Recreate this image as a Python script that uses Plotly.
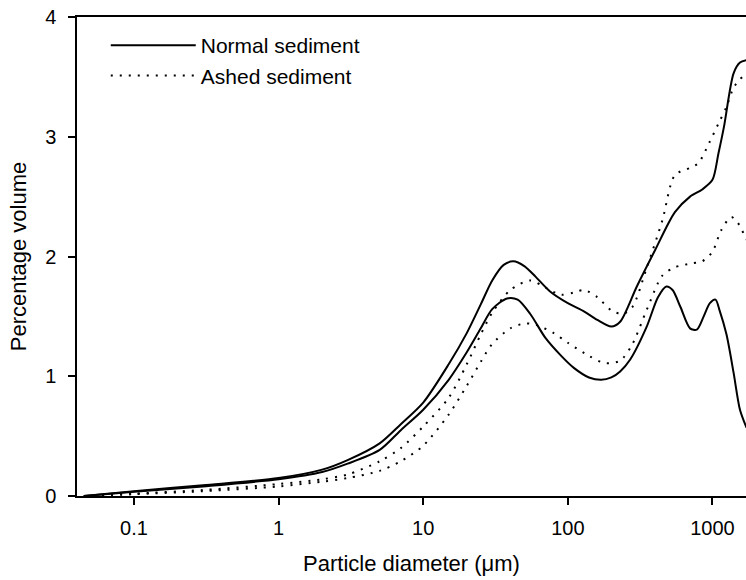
import plotly.graph_objects as go

# ---- data ----
tick_vals = [0.1, 1, 10, 100, 1000]
tick_text = ["0.1", "1", "10", "100", "1000"]
y_ticks = [0, 1, 2, 3, 4]

normal_upper_d = [0.045, 0.1, 0.3, 1, 2, 3, 5, 7, 10, 15, 20, 25, 30, 36, 42, 50, 60, 75, 100,
                  130, 160, 200, 230, 300, 400, 550, 700, 850, 1000, 1100, 1200, 1400, 1550, 1720]
normal_upper_v = [0, 0.04, 0.09, 0.15, 0.22, 0.3, 0.44, 0.6, 0.78, 1.1, 1.36, 1.6, 1.8, 1.93,
                  1.96, 1.92, 1.83, 1.71, 1.61, 1.54, 1.47, 1.415, 1.455, 1.75, 2.05, 2.37, 2.50,
                  2.56, 2.64, 2.86, 3.08, 3.53, 3.62, 3.64]

normal_lower_d = [0.045, 0.1, 0.3, 1, 2, 3, 5, 7, 10, 15, 20, 25, 30, 38, 45, 55, 70, 90, 110,
                  140, 170, 200, 230, 270, 350, 420, 480, 530, 600, 700, 780, 870, 960, 1050,
                  1120, 1250, 1400, 1550, 1720]
normal_lower_v = [0, 0.035, 0.08, 0.14, 0.2, 0.27, 0.385, 0.55, 0.72, 0.97, 1.2, 1.4, 1.56, 1.65,
                  1.64, 1.52, 1.32, 1.17, 1.07, 0.99, 0.97, 0.99, 1.04, 1.14, 1.41, 1.66, 1.75,
                  1.72, 1.58, 1.40, 1.39, 1.50, 1.61, 1.64, 1.55, 1.35, 1.03, 0.72, 0.57]

ashed_upper_d = [0.045, 0.1, 0.3, 1, 2, 3, 5, 7, 10, 15, 20, 25, 30, 40, 55, 70, 90, 110, 130,
                 160, 200, 240, 280, 350, 450, 550, 700, 800, 950, 1100, 1250, 1400, 1550, 1720]
ashed_upper_v = [0, 0.02, 0.05, 0.1, 0.14, 0.18, 0.29, 0.4, 0.58, 0.82, 1.1, 1.35, 1.53, 1.72,
                 1.80, 1.74, 1.68, 1.70, 1.72, 1.66, 1.55, 1.52, 1.58, 1.9, 2.3, 2.68, 2.74,
                 2.78, 2.95, 3.11, 3.25, 3.41, 3.48, 3.53]

ashed_lower_d = [0.045, 0.1, 0.3, 1, 2, 3, 5, 7, 10, 15, 20, 25, 30, 40, 50, 60, 80, 100, 140,
                 180, 230, 280, 350, 450, 550, 700, 850, 1000, 1150, 1350, 1500, 1720]
ashed_lower_v = [0, 0.015, 0.04, 0.08, 0.12, 0.15, 0.21, 0.29, 0.42, 0.68, 0.92, 1.12, 1.27,
                 1.40, 1.44, 1.43, 1.36, 1.28, 1.17, 1.11, 1.13, 1.27, 1.55, 1.84, 1.91, 1.94,
                 1.96, 2.04, 2.22, 2.33, 2.28, 2.14]

FONT = "Liberation Sans, Arial, sans-serif"
solid = dict(color="black", width=2, shape="spline", smoothing=0.8)
dotted = dict(color="black", width=2, dash="2px,7px", shape="spline", smoothing=0.8)

fig = go.Figure()
fig.add_trace(go.Scatter(x=normal_upper_d, y=normal_upper_v, mode="lines", line=solid,
                         name="Normal sediment", legendgroup="n", showlegend=True))
fig.add_trace(go.Scatter(x=normal_lower_d, y=normal_lower_v, mode="lines", line=solid,
                         name="Normal sediment", legendgroup="n", showlegend=False))
fig.add_trace(go.Scatter(x=ashed_upper_d, y=ashed_upper_v, mode="lines", line=dotted,
                         name="Ashed sediment", legendgroup="a", showlegend=True))
fig.add_trace(go.Scatter(x=ashed_lower_d, y=ashed_lower_v, mode="lines", line=dotted,
                         name="Ashed sediment", legendgroup="a", showlegend=False))

fig.update_layout(
    width=746, height=580,
    margin=dict(l=77, r=0, t=17, b=84),
    paper_bgcolor="white", plot_bgcolor="white",
    font=dict(family=FONT, color="black", size=20),
    showlegend=True,
    legend=dict(x=0.043, y=0.983, xanchor="left", yanchor="top",
                bgcolor="rgba(0,0,0,0)", font=dict(size=21, family=FONT),
                itemwidth=85, tracegroupgap=0),
    xaxis=dict(type="log", range=[-1.394, 3.232], tickvals=tick_vals, ticktext=tick_text,
               ticks="outside", ticklen=7, tickwidth=1.5, tickcolor="black",
               showline=True, linecolor="black", linewidth=1.5, mirror=True,
               showgrid=False, zeroline=False, ticklabelstandoff=6,
               tickfont=dict(size=20, family=FONT),
               title=dict(text="Particle diameter (μm)", font=dict(size=22, family=FONT),
                          standoff=18)),
    yaxis=dict(range=[0, 4], tickvals=y_ticks, ticks="outside", ticklen=7, tickwidth=1.5,
               tickcolor="black", showline=True, linecolor="black", linewidth=1.5,
               showgrid=False, zeroline=False, ticklabelstandoff=8,
               tickfont=dict(size=20, family=FONT),
               title=dict(text="Percentage volume", font=dict(size=22, family=FONT),
                          standoff=12)),
)

fig.write_html("out.html")
